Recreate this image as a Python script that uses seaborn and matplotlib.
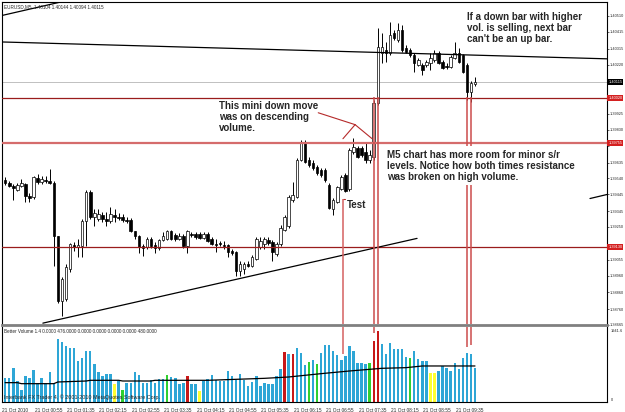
import numpy as np
import pandas as pd
import matplotlib.pyplot as plt
import seaborn as sns
from matplotlib.transforms import ScaledTranslation

# EURUSD M5 candles, 21 Oct 2010
opens = [1.39533, 1.39515, 1.39497, 1.39468, 1.39497, 1.39509, 1.39438, 1.39432, 1.39545, 1.39521,
         1.39533, 1.39527, 1.39515, 1.39194, 1.38807, 1.38819, 1.38997, 1.39140, 1.39128, 1.39134,
         1.39283, 1.39456, 1.39307, 1.39295, 1.39319, 1.39295, 1.39283, 1.39319, 1.39307, 1.39307,
         1.39289, 1.39289, 1.39224, 1.39194, 1.39134, 1.39128, 1.39176, 1.39140, 1.39122, 1.39170,
         1.39176, 1.39224, 1.39200, 1.39176, 1.39194, 1.39134, 1.39206, 1.39206, 1.39206, 1.39182,
         1.39206, 1.39176, 1.39146, 1.39152, 1.39140, 1.39140, 1.39104, 1.39098, 1.38985, 1.38997,
         1.39027, 1.39015, 1.39057, 1.39128, 1.39146, 1.39170, 1.39158, 1.39087, 1.39146, 1.39235,
         1.39253, 1.39414, 1.39432, 1.39652, 1.39754, 1.39652, 1.39634, 1.39611, 1.39593, 1.39593,
         1.39503, 1.39355, 1.39402, 1.39474, 1.39563, 1.39474, 1.39700, 1.39724, 1.39724, 1.39700,
         1.39652, 1.39670, 1.39992, 1.40290, 1.40307, 1.40290, 1.40409, 1.40367, 1.40427, 1.40319,
         1.40307, 1.40278, 1.40218, 1.40218, 1.40218, 1.40230, 1.40248, 1.40290, 1.40236, 1.40212,
         1.40206, 1.40260, 1.40290, 1.40278, 1.40218, 1.40057, 1.40104]
highs = [1.39551, 1.39527, 1.39509, 1.39515, 1.39539, 1.39515, 1.39450, 1.39557, 1.39569, 1.39557,
         1.39557, 1.39599, 1.39527, 1.39194, 1.38950, 1.39027, 1.39152, 1.39158, 1.39176, 1.39295,
         1.39468, 1.39468, 1.39355, 1.39355, 1.39337, 1.39337, 1.39372, 1.39355, 1.39331, 1.39325,
         1.39307, 1.39301, 1.39229, 1.39200, 1.39146, 1.39188, 1.39188, 1.39158, 1.39176, 1.39218,
         1.39235, 1.39235, 1.39212, 1.39212, 1.39206, 1.39235, 1.39218, 1.39218, 1.39218, 1.39218,
         1.39218, 1.39188, 1.39176, 1.39164, 1.39164, 1.39146, 1.39116, 1.39104, 1.39045, 1.39039,
         1.39045, 1.39081, 1.39188, 1.39188, 1.39188, 1.39188, 1.39170, 1.39158, 1.39259, 1.39319,
         1.39444, 1.39521, 1.39664, 1.39771, 1.39771, 1.39670, 1.39652, 1.39623, 1.39605, 1.39605,
         1.39515, 1.39426, 1.39497, 1.39563, 1.39575, 1.39724, 1.39783, 1.39736, 1.39736, 1.39754,
         1.39712, 1.40010, 1.40439, 1.40409, 1.40355, 1.40474, 1.40427, 1.40468, 1.40456, 1.40337,
         1.40319, 1.40290, 1.40260, 1.40230, 1.40248, 1.40290, 1.40307, 1.40302, 1.40248, 1.40230,
         1.40278, 1.40355, 1.40319, 1.40284, 1.40230, 1.40123, 1.40144]
lows = [1.39503, 1.39486, 1.39414, 1.39462, 1.39486, 1.39402, 1.39402, 1.39420, 1.39509, 1.39509,
        1.39515, 1.39509, 1.39015, 1.38795, 1.38717, 1.38807, 1.38979, 1.39104, 1.39069, 1.39069,
        1.39134, 1.39295, 1.39253, 1.39283, 1.39277, 1.39253, 1.39271, 1.39277, 1.39289, 1.39277,
        1.39271, 1.39218, 1.39176, 1.39092, 1.39075, 1.39116, 1.39122, 1.39092, 1.39110, 1.39164,
        1.39170, 1.39170, 1.39164, 1.39170, 1.39122, 1.39092, 1.39188, 1.39176, 1.39176, 1.39176,
        1.39158, 1.39140, 1.39098, 1.39134, 1.39116, 1.39069, 1.39081, 1.38955, 1.38955, 1.38967,
        1.39009, 1.39009, 1.39051, 1.39116, 1.39116, 1.39140, 1.39045, 1.39075, 1.39134, 1.39229,
        1.39247, 1.39402, 1.39426, 1.39646, 1.39634, 1.39611, 1.39593, 1.39563, 1.39551, 1.39521,
        1.39355, 1.39319, 1.39396, 1.39468, 1.39456, 1.39462, 1.39688, 1.39664, 1.39670, 1.39634,
        1.39634, 1.39652, 1.39980, 1.40230, 1.40236, 1.40278, 1.40367, 1.40355, 1.40296, 1.40290,
        1.40266, 1.40176, 1.40212, 1.40159, 1.40206, 1.40188, 1.40236, 1.40224, 1.40194, 1.40194,
        1.40200, 1.40254, 1.40230, 1.40171, 1.40010, 1.39998, 1.40094]
closes = [1.39515, 1.39497, 1.39480, 1.39503, 1.39515, 1.39438, 1.39426, 1.39551, 1.39521, 1.39539,
          1.39527, 1.39515, 1.39194, 1.38807, 1.38938, 1.39009, 1.39146, 1.39128, 1.39140, 1.39283,
          1.39456, 1.39307, 1.39331, 1.39325, 1.39295, 1.39283, 1.39325, 1.39307, 1.39301, 1.39289,
          1.39283, 1.39224, 1.39194, 1.39128, 1.39122, 1.39176, 1.39134, 1.39122, 1.39170, 1.39194,
          1.39224, 1.39176, 1.39176, 1.39194, 1.39134, 1.39224, 1.39200, 1.39188, 1.39182, 1.39206,
          1.39164, 1.39146, 1.39140, 1.39146, 1.39134, 1.39098, 1.39092, 1.38985, 1.39027, 1.39027,
          1.39015, 1.39069, 1.39176, 1.39164, 1.39176, 1.39152, 1.39098, 1.39146, 1.39247, 1.39307,
          1.39432, 1.39444, 1.39652, 1.39754, 1.39640, 1.39623, 1.39605, 1.39575, 1.39563, 1.39533,
          1.39366, 1.39414, 1.39486, 1.39551, 1.39462, 1.39712, 1.39730, 1.39670, 1.39682, 1.39652,
          1.39682, 1.39992, 1.40325, 1.40325, 1.40290, 1.40397, 1.40379, 1.40427, 1.40307, 1.40296,
          1.40278, 1.40230, 1.40248, 1.40188, 1.40236, 1.40260, 1.40290, 1.40230, 1.40200, 1.40206,
          1.40266, 1.40290, 1.40236, 1.40176, 1.40057, 1.40111, 1.40115]

# Better Volume histogram
volumes = [647, 665, 921, 574, 319, 711, 647, 866, 529, 665,
           529, 830, 529, 1714, 1650, 1532, 1486, 1486, 1121, 1213,
           1395, 1395, 1030, 830, 711, 775, 775, 483, 574, 319,
           529, 529, 830, 738, 529, 529, 593, 529, 620, 620,
           738, 684, 647, 483, 529, 711, 483, 483, 301, 574,
           620, 738, 593, 574, 574, 848, 711, 593, 775, 593,
           438, 556, 711, 438, 529, 501, 501, 711, 912, 1368,
           1304, 1304, 1486, 1349, 1012, 1103, 1140, 1048, 1349, 1559,
           1559, 1395, 1276, 1140, 1258, 1532, 1395, 1076, 1076, 1030,
           1076, 1668, 1942, 1577, 1322, 1623, 1440, 1440, 1440, 1231,
           1194, 1395, 1185, 1121, 1121, 802, 802, 848, 985, 939,
           848, 1076, 893, 1213, 1349, 1322, 939]
yellow_bars = [27, 48, 105, 106]
green_bars = [29, 40, 75, 77, 90, 100]
red_bars = [45, 69, 71, 91, 92]

ma_bars = [0, 3, 4, 12, 13, 20, 21, 28, 29, 36, 37, 50, 57, 64, 70, 78, 85, 93, 99, 103, 116]
ma_values = [529, 529, 501, 501, 547, 574, 593, 593, 574, 574, 593, 593, 620, 647, 684, 775, 848, 921, 939, 985, 985]

price_ticks = ["1.40510", "1.40415", "1.40315", "1.40220", "1.40125", "1.40025", "1.39925",
               "1.39830", "1.39735", "1.39635", "1.39540", "1.39445", "1.39345", "1.39250",
               "1.39150", "1.39055", "1.38960", "1.38860", "1.38760", "1.38665"]
covered_ticks = ["1.40125", "1.40025", "1.39735", "1.39150"]   # hidden under the level boxes
time_bars = [0, 8, 16, 24, 32, 40, 48, 56, 64, 72, 80, 88, 96, 104, 112]
time_labels = ["21 Oct 2010", "21 Oct 00:55", "21 Oct 01:35", "21 Oct 02:15", "21 Oct 02:55",
               "21 Oct 03:35", "21 Oct 04:15", "21 Oct 04:55", "21 Oct 05:35", "21 Oct 06:15",
               "21 Oct 06:55", "21 Oct 07:35", "21 Oct 08:15", "21 Oct 08:55", "21 Oct 09:35"]

dark_levels = [1.40020, 1.39128]
light_level = 1.39754
last_price = 1.40115
level_labels = {1.40020: "1.40020", 1.39754: "1.39755", 1.39128: "1.39130"}

# trend lines drawn on the chart: (bar0, price0, bar1, price1)
trend_lines = [(9.3, 1.38676, 101.7, 1.39182),
               (-1.3, 1.40510, 13.5, 1.40592),
               (-1.3, 1.40355, 148.6, 1.40254),
               (144.4, 1.39420, 148.6, 1.39444)]
pointer_lines = [(77.3, 1.39932, 86.4, 1.39861),
                 (86.4, 1.39861, 83.4, 1.39777),
                 (86.4, 1.39861, 90.6, 1.39777),
                 (83.3, 1.39420, 84.0, 1.39420)]
test_bar, test_top, test_vol_end = 83.3, 1.39420, 1300
break_bars = [91, 92, 114, 115]
break_top = 1.40028
break_vol_end = [1900, 2060, 1500, 1560]

sns.set_style("white")
plt.rcParams["font.family"] = ["Liberation Sans", "DejaVu Sans"]

fig = plt.figure(figsize=(6.25, 4.12), dpi=100)
ax = fig.add_axes([0.0032, 0.2112, 0.968, 0.784])
axv = fig.add_axes([0.0032, 0.0243, 0.968, 0.182])

o, h, l, c = map(np.array, (opens, highs, lows, closes))
bars = np.arange(len(o))
up = c >= o
body = np.maximum(np.abs(c - o), 0.000025)
ax.vlines(bars, l, h, color="black", lw=0.7, zorder=3)
ax.bar(bars, body, bottom=np.minimum(o, c), width=0.62,
       color=np.where(up, "white", "black"), edgecolor="black", linewidth=0.5, zorder=4)

ax.axhline(last_price, color="#c0c0c0", lw=0.7, zorder=1)
for p in dark_levels:
    ax.axhline(p, color="#9a1c1c", lw=0.9, zorder=5)
ax.axhline(light_level, color="#d56c6c", lw=1.6, zorder=5)
for x0, p0, x1, p1 in trend_lines:
    ax.plot([x0, x1], [p0, p1], color="black", lw=0.9, zorder=6)
for x0, p0, x1, p1 in pointer_lines:
    ax.plot([x0, x1], [p0, p1], color="#b52a2a", lw=0.8, zorder=6)

ylo, yhi = 1.386696, 1.405934
ax.vlines(test_bar, ylo, test_top, color="#d46060", lw=1.1, zorder=6)
ax.vlines(break_bars, ylo, break_top, color="#cc4c4c", lw=1.1, zorder=6)

ax.set_xlim(-0.79, 148.6)
ax.set_ylim(ylo, yhi)
ax.set_xticks([])
ax.yaxis.tick_right()
ax.set_yticks([float(t) for t in price_ticks])
ax.set_yticklabels(["" if t in covered_ticks else t for t in price_ticks], fontsize=2.8)
ax.tick_params(axis="y", direction="out", length=1.5, width=0.5, pad=0.5, right=True)
for s in ax.spines.values():
    s.set_color("black")
    s.set_linewidth(0.8)
ax.spines["bottom"].set_color("#808080")
ax.spines["bottom"].set_linewidth(2)

ytr = ax.get_yaxis_transform()
ax.text(1.002, last_price, "1.40115", transform=ytr, fontsize=2.8, color="white", va="center",
        bbox=dict(boxstyle="square,pad=0.25", fc="black", ec="none"), zorder=10)
for p, txt in level_labels.items():
    ax.text(1.002, p, txt, transform=ytr, fontsize=2.8, color="white", va="center",
            bbox=dict(boxstyle="square,pad=0.25", fc="#d42020", ec="none"), zorder=10)

ax.text(0.004, 0.994, "EURUSD,M5  1.40104 1.40144 1.40094 1.40115", transform=ax.transAxes,
        fontsize=3.3, va="top", ha="left", zorder=10)

note = dict(fontsize=7.0, fontweight="bold", va="top", ha="left", linespacing=1.12, zorder=10)
ax.text(52.8, 1.40003, "This mini down move\nwas on descending\nvolume.", **note)
ax.text(114.0, 1.40532, "If a down bar with higher\nvol. is selling, next bar\ncan't be an up bar.", **note)
ax.text(94.3, 1.39710, "M5 chart has more room for minor s/r\nlevels. Notice how both times resistance\n"
        "was broken on high volume.", bbox=dict(fc="white", ec="none", pad=2.5), **note)
ax.text(84.4, 1.39410, "Test", **note)

# volume panel
kinds = ["blue"] * len(volumes)
for i in yellow_bars:
    kinds[i] = "yellow"
for i in green_bars:
    kinds[i] = "green"
for i in red_bars:
    kinds[i] = "red"
df = pd.DataFrame({"bar": bars, "volume": volumes, "kind": kinds})
pal = {"blue": "#2ea6d6", "yellow": "#ffff30", "green": "#30d030", "red": "#c81818"}
sns.barplot(data=df, x="bar", y="volume", hue="kind", palette=pal, native_scale=True,
            dodge=False, width=0.6, saturation=1, legend=False, linewidth=0, ax=axv)
sns.lineplot(x=ma_bars, y=ma_values, color="black", lw=0.9, ax=axv)

axv.vlines(test_bar, test_vol_end, 2051, color="#d46060", lw=1.1, zorder=6)
for b, e in zip(break_bars, break_vol_end):
    axv.vlines(b, e, 2051, color="#cc4c4c", lw=1.1, zorder=6)

axv.set_xlim(-0.79, 148.6)
axv.set_ylim(0, 2051)
axv.set_ylabel("")
axv.set_xlabel("")
axv.set_yticks([])
axv.set_xticks(time_bars)
axv.set_xticklabels(time_labels, fontsize=3.4, ha="left")
axv.tick_params(axis="x", direction="out", length=2.5, width=0.5, pad=1.5)
shift = ScaledTranslation(-3 / 100, 0, fig.dpi_scale_trans)
for lab in axv.get_xticklabels():
    lab.set_transform(lab.get_transform() + shift)
for s in axv.spines.values():
    s.set_color("black")
    s.set_linewidth(0.8)
axv.spines["top"].set_visible(False)

vtr = axv.get_yaxis_transform()
axv.text(1.006, 1941.6, "1941.6", transform=vtr, fontsize=2.8, va="center")
axv.text(1.006, 60, "0", transform=vtr, fontsize=2.8, va="center")
axv.text(0.004, 0.97, "Better Volume 1.4 0.0000 476.0000 0.0000 0.0000 0.0000 0.0000 480.0000",
         transform=axv.transAxes, fontsize=3.3, va="top", zorder=10)
axv.text(0.004, 0.02, "Interbank FX Trader 4, \u00a9 2001-2010 MetaQuotes Software Corp.",
         transform=axv.transAxes, fontsize=3.9, va="bottom", zorder=10)

fig.savefig("out.png", dpi=100, facecolor="white")
